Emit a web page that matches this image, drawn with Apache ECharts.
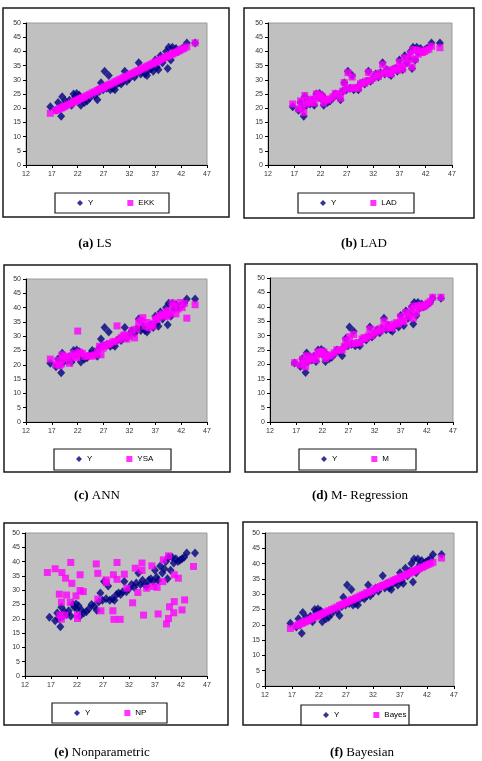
<!DOCTYPE html>
<html>
<head>
<meta charset="utf-8">
<script src="https://cdn.jsdelivr.net/npm/echarts@6/dist/echarts.min.js"></script>
<style>
  html, body { margin: 0; padding: 0; background: #fff; }
  #echarts { width: 482px; height: 761px; }
</style>
</head>
<body>
<div id="echarts"></div>
<script>
// observed x (shared by every panel)
var xVals = [16.7, 17.8, 18.2, 18.5, 18.8, 19.0, 19.3, 19.6, 20.0, 20.4,
             20.8, 21.2, 21.5, 21.8, 22.0, 22.3, 22.6, 22.9, 23.3, 23.8,
             24.3, 24.8, 25.3, 25.8, 26.2, 26.5, 26.9, 27.2, 27.6, 28.0,
             28.3, 28.8, 29.2, 29.6, 30.0, 30.4, 30.8, 31.1, 31.5, 32.0,
             32.5, 33.0, 33.4, 33.8, 34.2, 34.6, 35.0, 35.4, 35.8, 36.2,
             36.6, 37.0, 37.3, 37.6, 38.0, 38.4, 38.8, 39.1, 39.4, 39.6,
             40.0, 40.3, 40.6, 41.0, 41.4, 41.8, 42.2, 42.6, 43.1, 44.7];
// actual Y
var yActual = [20.5, 19.3, 22.0, 20.0, 17.2, 24.0, 21.0, 22.5, 21.5, 22.8,
               21.0, 25.0, 24.0, 25.2, 23.5, 24.6, 21.0, 23.0, 22.0, 22.5,
               23.5, 25.0, 24.5, 23.0, 26.0, 29.0, 26.5, 33.0, 27.0, 31.5,
               26.5, 27.0, 26.5, 28.5, 29.0, 28.5, 29.5, 33.0, 29.5, 30.5,
               32.0, 31.0, 32.5, 36.0, 32.0, 33.5, 32.0, 31.5, 33.5, 34.0,
               33.0, 37.0, 34.5, 33.5, 38.5, 36.0, 37.5, 40.0, 34.0, 41.5,
               37.0, 41.5, 39.5, 41.0, 40.0, 40.5, 41.0, 41.5, 43.0, 43.0];
// (a) LS fitted (EKK)
var predLS = [18.2, 19.2, 19.5, 19.8, 20.1, 20.2, 20.5, 20.8, 21.1, 21.5,
              21.8, 22.2, 22.4, 22.7, 22.9, 23.2, 23.4, 23.7, 24.0, 24.5,
              24.9, 25.4, 25.8, 26.3, 26.6, 26.9, 27.2, 27.5, 27.9, 28.2,
              28.5, 28.9, 29.3, 29.6, 30.0, 30.3, 30.7, 31.0, 31.3, 31.8,
              32.2, 32.6, 33.0, 33.3, 33.7, 34.1, 34.4, 34.8, 35.1, 35.5,
              35.8, 36.2, 36.4, 36.7, 37.1, 37.4, 37.8, 38.0, 38.3, 38.5,
              38.8, 39.1, 39.4, 39.7, 40.1, 40.4, 40.8, 41.1, 41.6, 43.0];
// (b) LAD
var predLAD = [21.5, 19.8, 22.6, 20.5, 18.5, 24.5, 21.5, 22.8, 22.0, 23.2,
               21.8, 25.0, 24.0, 24.8, 23.5, 24.2, 21.8, 23.2, 22.8, 23.2,
               24.0, 25.2, 24.9, 23.5, 26.0, 29.0, 26.8, 32.5, 27.2, 31.0,
               27.0, 27.3, 27.0, 28.6, 29.0, 28.8, 29.6, 32.6, 29.8, 30.6,
               31.8, 31.2, 32.4, 35.3, 32.2, 33.5, 32.3, 32.0, 33.6, 34.0,
               33.3, 36.2, 34.6, 33.8, 37.8, 35.8, 37.2, 39.2, 34.5, 40.6,
               37.2, 40.5, 39.0, 40.2, 39.6, 40.0, 40.5, 40.8, 41.8, 41.3];
// (c) ANN (YSA)
var predANN = [22.0, 20.0, 21.5, 19.8, 20.2, 23.5, 22.0, 23.0, 22.5, 20.5,
               23.0, 24.0, 23.0, 22.5, 31.8, 24.5, 24.0, 24.0, 23.0, 23.0,
               23.2, 23.0, 23.5, 24.5, 26.5, 23.5, 25.8, 26.5, 27.0, 27.2,
               27.5, 28.0, 28.2, 33.6, 28.8, 29.5, 30.2, 30.5, 29.0, 30.0,
               32.0, 29.4, 32.5, 34.8, 35.5, 36.5, 33.5, 34.8, 33.0, 34.2,
               33.5, 36.0, 35.8, 36.5, 37.2, 37.8, 37.0, 38.5, 37.0, 39.0,
               38.0, 41.6, 40.5, 37.8, 39.5, 41.8, 40.0, 41.5, 36.3, 41.0];
// (d) M-regression
var predM = [20.6, 19.8, 21.8, 20.4, 19.2, 23.0, 21.3, 22.3, 21.8, 22.8,
             21.6, 24.3, 23.8, 24.6, 23.6, 24.3, 22.0, 23.3, 22.8, 23.2,
             24.0, 25.1, 24.9, 25.0, 26.2, 28.4, 26.8, 29.6, 27.3, 30.4,
             27.2, 27.6, 27.5, 28.8, 29.3, 29.0, 29.9, 32.3, 30.0, 30.9,
             32.0, 31.5, 32.7, 35.0, 32.6, 33.8, 32.8, 32.6, 34.0, 34.5,
             34.0, 36.6, 35.2, 34.8, 38.0, 36.5, 37.5, 39.3, 36.0, 40.2,
             37.8, 40.4, 39.6, 40.6, 40.0, 40.6, 41.2, 41.8, 43.3, 43.3];
// (f) Bayesian
var predBayes = [18.8, 19.7, 20.0, 20.3, 20.5, 20.7, 20.9, 21.2, 21.5, 21.8,
                 22.2, 22.5, 22.7, 23.0, 23.1, 23.4, 23.6, 23.9, 24.2, 24.6,
                 25.0, 25.4, 25.8, 26.3, 26.6, 26.8, 27.2, 27.4, 27.7, 28.1,
                 28.3, 28.7, 29.0, 29.4, 29.7, 30.0, 30.4, 30.6, 30.9, 31.3,
                 31.8, 32.2, 32.5, 32.8, 33.1, 33.5, 33.8, 34.1, 34.5, 34.8,
                 35.1, 35.4, 35.7, 35.9, 36.3, 36.6, 36.9, 37.2, 37.4, 37.6,
                 37.9, 38.1, 38.4, 38.7, 39.0, 39.4, 39.7, 40.0, 40.4, 41.8];
// (e) Nonparametric (NP) points
var npX = [16.3, 17.8, 18.6, 19.1, 19.0, 19.8, 20.7, 21.0, 20.8, 21.8,
           22.6, 22.6, 23.2, 18.7, 19.0, 19.7, 22.1, 22.1, 25.7, 26.0,
           26.0, 26.6, 27.6, 27.7, 28.9, 29.1, 29.7, 29.7, 29.0, 30.3,
           31.1, 31.6, 32.7, 33.2, 33.7, 34.5, 34.5, 34.8, 35.4, 36.4,
           36.7, 37.4, 37.6, 38.5, 39.2, 39.6, 39.8, 39.6, 40.7, 40.7,
           41.5, 40.6, 42.2, 42.7, 44.4, 38.6, 20.0];
var npY = [36.2, 37.5, 28.6, 36.2, 25.8, 34.2, 25.8, 32.4, 39.7, 28.0,
           35.4, 29.9, 29.5, 21.3, 19.9, 21.3, 21.3, 20.1, 39.2, 35.9,
           26.9, 22.8, 33.6, 32.7, 22.8, 19.8, 39.7, 33.8, 35.4, 19.8,
           35.6, 30.7, 25.6, 37.7, 29.2, 39.5, 36.9, 21.3, 30.7, 38.5,
           31.3, 31.0, 21.7, 33.0, 18.2, 20.1, 24.2, 42.0, 26.0, 35.4,
           34.2, 22.1, 23.1, 26.6, 38.3, 40.6, 28.3];

var panels = [
  {tag: '(a)', title: 'LS', label: 'EKK', xs: xVals, ys: predLS},
  {tag: '(b)', title: 'LAD', label: 'LAD', xs: xVals, ys: predLAD},
  {tag: '(c)', title: 'ANN', label: 'YSA', xs: xVals, ys: predANN},
  {tag: '(d)', title: 'M- Regression', label: 'M', xs: xVals, ys: predM},
  {tag: '(e)', title: 'Nonparametric', label: 'NP', xs: npX, ys: npY},
  {tag: '(f)', title: 'Bayesian', label: 'Bayes', xs: xVals, ys: predBayes}
];

// page layout (pixels): outer frame, plot area, legend box, caption centre
var layout = [
  {frame: [3, 8, 226, 209], plot: [26, 23, 181, 142], leg: [55, 193, 114, 20], cap: [95, 244]},
  {frame: [244, 8, 230, 210], plot: [268, 23, 184, 142], leg: [298, 193, 116, 20], cap: [364, 244]},
  {frame: [4, 265, 226, 207], plot: [26, 279, 181, 143], leg: [54, 449, 117, 21], cap: [97, 496]},
  {frame: [245, 264, 232, 208], plot: [270, 278, 183, 144], leg: [299, 449, 117, 21], cap: [360, 496]},
  {frame: [4, 523, 224, 202], plot: [25, 533, 182, 143], leg: [52, 703, 115, 20], cap: [102, 753]},
  {frame: [243, 522, 234, 203], plot: [265, 533, 189, 153], leg: [301, 705, 108, 20], cap: [362, 753]}
];

function pairs(xs, ys) {
  return xs.map(function (x, i) { return [x, ys[i]]; });
}

var myChart = echarts.init(document.getElementById('echarts'));

var grids = [], xAxes = [], yAxes = [], series = [], legends = [], graphics = [];
var axisFont = {fontSize: 7, color: '#333', fontFamily: 'Liberation Sans'};

panels.forEach(function (p, i) {
  var L = layout[i];
  grids.push({
    left: L.plot[0], top: L.plot[1], width: L.plot[2], height: L.plot[3],
    show: true, backgroundColor: '#c0c0c0', borderColor: '#9a9a9a', borderWidth: 1
  });
  xAxes.push({
    gridIndex: i, type: 'value', min: 12, max: 47, interval: 5,
    axisLine: {onZero: false, lineStyle: {color: '#000', width: 1}},
    axisTick: {length: 3, lineStyle: {color: '#000'}},
    splitLine: {show: false},
    axisLabel: Object.assign({margin: 6}, axisFont)
  });
  yAxes.push({
    gridIndex: i, type: 'value', min: 0, max: 50, interval: 5,
    axisLine: {show: true, lineStyle: {color: '#000', width: 1}},
    axisTick: {show: true, length: 3, lineStyle: {color: '#000'}},
    splitLine: {show: false},
    axisLabel: Object.assign({margin: 5}, axisFont)
  });
  series.push({
    name: 'Y', type: 'scatter', xAxisIndex: i, yAxisIndex: i,
    symbol: 'diamond', symbolSize: [8, 9],
    itemStyle: {color: '#000080'},
    data: pairs(xVals, yActual)
  });
  series.push({
    name: p.label, type: 'scatter', xAxisIndex: i, yAxisIndex: i,
    symbol: 'rect', symbolSize: 7,
    itemStyle: {color: '#ff00ff'},
    data: pairs(p.xs, p.ys)
  });
  legends.push({
    left: L.leg[0] + 22, top: L.leg[1] + 6, padding: 0,
    itemGap: 34, itemWidth: 6, itemHeight: 6,
    textStyle: {fontSize: 8, color: '#000', fontFamily: 'Liberation Sans'},
    selectedMode: false,
    data: [{name: 'Y', icon: 'diamond'}, {name: p.label, icon: 'rect'}]
  });
  graphics.push({
    type: 'rect', z: -1,
    shape: {x: L.frame[0], y: L.frame[1], width: L.frame[2], height: L.frame[3]},
    style: {fill: '#fff', stroke: '#1a1a1a', lineWidth: 1.5}
  });
  graphics.push({
    type: 'rect', z: 1,
    shape: {x: L.leg[0], y: L.leg[1], width: L.leg[2], height: L.leg[3]},
    style: {fill: '#fff', stroke: '#1a1a1a', lineWidth: 1.2}
  });
  graphics.push({
    type: 'text', x: L.cap[0], y: L.cap[1],
    style: {
      text: '{b|' + p.tag + '} ' + p.title,
      rich: {b: {fontWeight: 'bold', fontSize: 13, fontFamily: 'Liberation Serif', fill: '#000'}},
      fontSize: 13, fontFamily: 'Liberation Serif', fill: '#000',
      align: 'center', verticalAlign: 'middle'
    }
  });
});

option = {
  backgroundColor: '#fff',
  animation: false,
  grid: grids,
  xAxis: xAxes,
  yAxis: yAxes,
  legend: legends,
  graphic: graphics,
  series: series
};
myChart.setOption(option);
</script>
</body>
</html>
